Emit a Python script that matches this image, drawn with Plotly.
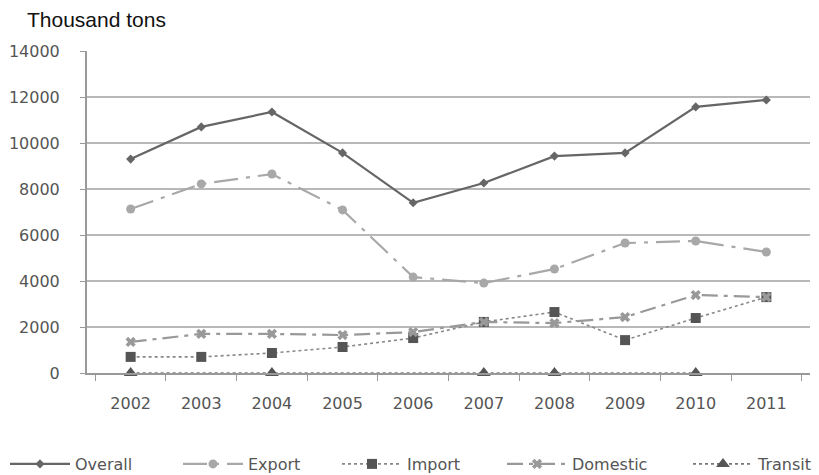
import plotly.graph_objects as go

# Freight volume by category, thousand tons
years = ["2002", "2003", "2004", "2005", "2006", "2007", "2008", "2009", "2010", "2011"]
overall = [9300, 10700, 11350, 9570, 7400, 8260, 9430, 9570, 11570, 11870]
export = [7130, 8220, 8650, 7090, 4170, 3910, 4520, 5650, 5740, 5260]
imports = [700, 700, 870, 1130, 1520, 2220, 2650, 1430, 2390, 3300]
domestic = [1350, 1700, 1700, 1650, 1780, 2220, 2170, 2430, 3390, 3300]
transit = [0, None, 0, None, None, 0, 0, None, 0, None]

y_ticks = [0, 2000, 4000, 6000, 8000, 10000, 12000, 14000]
y_tick_labels = ["0", "2000", "4000", "6000", "8000", "10000", "12000", "14000"]

TICK_FONT = dict(family="DejaVu Sans", size=16, color="#555555")
LEGEND_FONT = dict(family="DejaVu Sans", size=16, color="#555555")

series = [
    dict(name="Overall", y=overall, color="#666666", dash="solid", width=2.2,
         symbol="diamond", msize=7, legend="legend"),
    dict(name="Export", y=export, color="#a8a8a8", dash="24px,8px,4px,8px", width=2.2,
         symbol="circle", msize=9, legend="legend2"),
    dict(name="Import", y=imports, color="#888888", dash="dot", width=1.6,
         symbol="square", msize=10, mcolor="#555555", legend="legend3"),
    dict(name="Domestic", y=domestic, color="#999999", dash="16px,6px,4px,6px", width=2.2,
         symbol="x", msize=9, legend="legend4"),
    dict(name="Transit", y=transit, color="#777777", dash="dot", width=1.6,
         symbol="triangle-up", msize=12, mcolor="#555555", legend="legend5"),
]

fig = go.Figure()
for s in series:
    fig.add_trace(go.Scatter(
        x=years, y=s["y"], name=s["name"], mode="lines+markers",
        connectgaps=True, cliponaxis=False,
        line=dict(color=s["color"], dash=s["dash"], width=s["width"]),
        marker=dict(symbol=s["symbol"], size=s["msize"], color=s.get("mcolor", s["color"])),
        legend=s["legend"],
    ))

L, R, T, B = 87, 9, 51, 102
W, H = 819, 475
pw = W - L - R
ph = H - T - B


def px_x(px):
    return (px - L) / pw


def px_y(py):
    return (H - B - py) / ph


legend_common = dict(orientation="h", itemwidth=60, font=LEGEND_FONT,
                     bgcolor="rgba(0,0,0,0)", yanchor="middle", xanchor="left",
                     y=px_y(464), itemclick=False)
legend_left = [5, 178, 337, 502, 688]
layout_legends = {}
for i, left in enumerate(legend_left):
    key = "legend" if i == 0 else f"legend{i + 1}"
    layout_legends[key] = dict(legend_common, x=px_x(left))

fig.update_layout(
    width=W, height=H,
    margin=dict(l=L, r=R, t=T, b=B, autoexpand=False),
    paper_bgcolor="white", plot_bgcolor="white",
    showlegend=True,
    **layout_legends,
    xaxis=dict(
        type="category", tickson="boundaries", ticks="outside", ticklen=6,
        tickcolor="#999999", showline=True, linecolor="#999999", linewidth=2,
        showgrid=False, tickfont=TICK_FONT, ticklabelstandoff=15,
    ),
    yaxis=dict(
        range=[0, 14000], tickvals=y_ticks, ticktext=y_tick_labels,
        ticks="outside", ticklen=5,
        tickcolor="#999999", showline=True, linecolor="#999999", linewidth=2,
        showgrid=True, gridcolor="#b8b8b8", gridwidth=2, zeroline=False,
        tickfont=TICK_FONT, ticklabelstandoff=17,
    ),
    annotations=[
        dict(text="Thousand tons", xref="paper", yref="paper",
             x=px_x(25), y=px_y(20), xanchor="left", yanchor="middle",
             showarrow=False, font=dict(family="Liberation Sans", size=21, color="#111111")),
    ],
)

fig.write_html("out.html")
